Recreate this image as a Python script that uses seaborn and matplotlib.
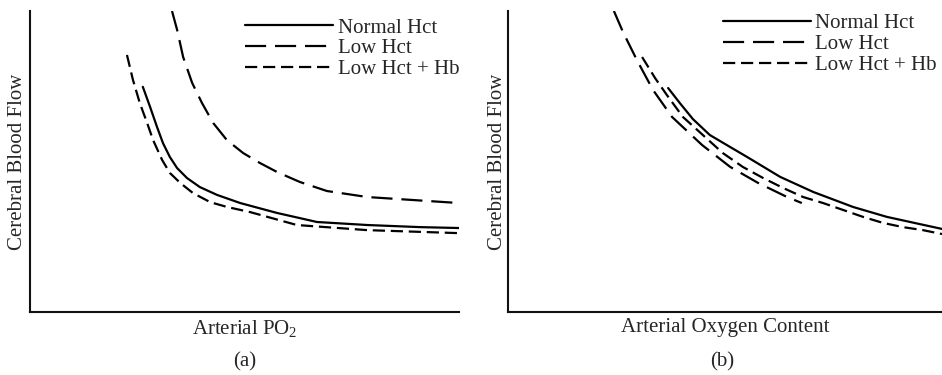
import matplotlib
matplotlib.use("Agg")
import matplotlib.pyplot as plt
import seaborn as sns
import pandas as pd

# ---- data (arbitrary units) ----
# Panel (a): Cerebral blood flow vs arterial PO2
a_normal_x = [26.3, 28.0, 29.6, 31.0, 32.6, 34.3, 36.6, 39.6, 43.6, 49.0, 57.6, 66.9, 78.6, 90.9, 100]
a_normal_y = [74.8, 68.1, 61.5, 56.1, 51.5, 47.8, 44.5, 41.5, 38.9, 36.2, 32.9, 29.9, 28.9, 28.2, 27.9]
a_lowhct_x = [33.1, 34.3, 35.7, 37.8, 40.1, 42.7, 45.9, 49.7, 53.6, 57.6, 62.9, 69.2, 78.6, 100]
a_lowhct_y = [100, 93.7, 84.7, 76.1, 69.4, 62.8, 57.1, 52.8, 49.5, 46.5, 43.2, 40.2, 38.2, 36.2]
a_lowhb_x = [22.6, 24.0, 25.6, 27.3, 28.7, 30.8, 32.6, 35.0, 38.0, 42.0, 45.9, 51.3, 62.2, 78.6, 100]
a_lowhb_y = [85.4, 77.1, 69.4, 62.8, 57.1, 50.5, 46.2, 42.9, 39.5, 36.5, 34.9, 33.2, 28.9, 27.2, 26.2]

# Panel (b): Cerebral blood flow vs arterial oxygen content
b_normal_x = [36.9, 39.6, 42.6, 46.5, 51.2, 55.1, 62.7, 70.3, 79.5, 87.3, 94.9, 100]
b_normal_y = [74.4, 69.4, 64.1, 58.8, 54.8, 51.5, 44.9, 39.9, 34.9, 31.6, 29.2, 27.6]
b_lowhct_x = [24.4, 26.5, 29.7, 33.4, 37.8, 44.7, 51.2, 57.6, 64.3, 67.7]
b_lowhct_y = [100, 93.0, 83.7, 73.8, 64.8, 55.5, 48.2, 42.9, 38.2, 36.2]
b_lowhb_x = [30.9, 33.9, 36.6, 40.3, 44.9, 49.5, 54.1, 58.8, 63.4, 68.0, 72.6, 77.2,
             81.8, 86.4, 91.0, 95.6, 100]
b_lowhb_y = [84.7, 77.7, 72.1, 64.8, 58.8, 52.8, 48.2, 44.5, 41.2, 38.2, 36.2, 33.9,
             31.6, 29.6, 28.2, 27.2, 25.9]

series_labels = ["Normal Hct", "Low Hct", "Low Hct + Hb"]
x_labels = ["Arterial PO$_\\mathregular{2}$", "Arterial Oxygen Content"]
y_label = "Cerebral Blood Flow"
panel_tags = ["(a)", "(b)"]

sns.set_style("white")
plt.rcParams["font.family"] = ["Liberation Serif", "DejaVu Serif"]
plt.rcParams["mathtext.default"] = "regular"

FS = 15
LW = 1.6
styles = ["-", (0, (9.5, 4.0)), (0, (5.5, 2.6))]

fig = plt.figure(figsize=(9.42, 3.75), dpi=100)
H = 375.0
W = 942.0
ax_a = fig.add_axes([30 / W, (H - 312) / H, 429 / W, 301 / H])
ax_b = fig.add_axes([508 / W, (H - 312) / H, 434 / W, 301 / H])

panels = [
    (ax_a, [(a_normal_x, a_normal_y), (a_lowhct_x, a_lowhct_y), (a_lowhb_x, a_lowhb_y)]),
    (ax_b, [(b_normal_x, b_normal_y), (b_lowhct_x, b_lowhct_y), (b_lowhb_x, b_lowhb_y)]),
]

for i, (ax, data) in enumerate(panels):
    for (xs, ys), lab, ls in zip(data, series_labels, styles):
        df = pd.DataFrame({"x": xs, "y": ys})
        sns.lineplot(data=df, x="x", y="y", ax=ax, color="black", linewidth=LW,
                     linestyle=ls, label=lab, estimator=None, sort=False,
                     solid_joinstyle="round", dash_joinstyle="round")
    ax.set_xlim(0, 100)
    ax.set_ylim(0, 100)
    ax.set_xticks([])
    ax.set_yticks([])
    for s in ["top", "right"]:
        ax.spines[s].set_visible(False)
    for s in ["left", "bottom"]:
        ax.spines[s].set_color("#111111")
        ax.spines[s].set_linewidth(1.5)
    ax.set_xlabel(x_labels[i], fontsize=FS)
    ax.set_ylabel(y_label, fontsize=FS)

ax_a.yaxis.set_label_coords(-0.007, 0.5)
ax_b.yaxis.set_label_coords(-0.003, 0.5)
ax_a.xaxis.set_label_coords(0.5, -0.02)
ax_b.xaxis.set_label_coords(0.5, -0.02)

leg_a = ax_a.legend(loc="upper right", bbox_to_anchor=(1.0, 0.977), frameon=False,
                    fontsize=FS, handlelength=4.2, handletextpad=0.22,
                    labelspacing=0.06, borderpad=0, borderaxespad=0)
leg_b = ax_b.legend(loc="upper right", bbox_to_anchor=(0.988, 0.991), frameon=False,
                    fontsize=FS, handlelength=4.2, handletextpad=0.22,
                    labelspacing=0.06, borderpad=0, borderaxespad=0)

fig.text((30 + 459) / 2 / W, (H - 362) / H, panel_tags[0], ha="center", va="center", fontsize=FS)
fig.text((508 + 942) / 2 / W - 3 / W, (H - 362) / H, panel_tags[1], ha="center", va="center", fontsize=FS)

fig.savefig("out.png", dpi=100, facecolor="white")
